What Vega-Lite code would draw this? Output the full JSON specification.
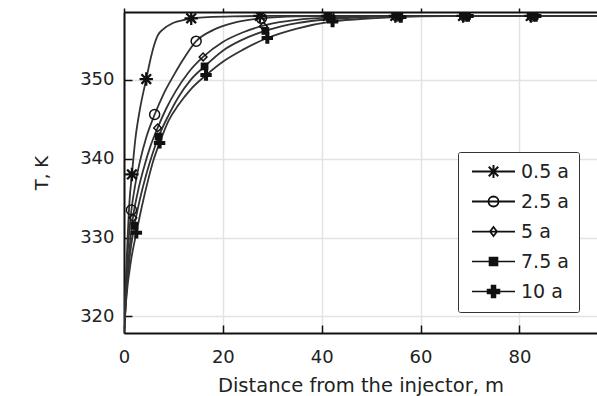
{
  "$schema": "https://vega.github.io/schema/vega-lite/v6.json",
  "width": 473,
  "height": 321,
  "autosize": "none",
  "padding": {"left": 124, "top": 12, "right": 0, "bottom": 63},
  "background": "white",
  "config": {"font": "DejaVu Sans", "view": {"stroke": null}},
  "datasets": {
    "curves": [
      {"series": "0.5 a", "x": 0, "T": 318}, {"series": "0.5 a", "x": 0.3, "T": 323.5}, {"series": "0.5 a", "x": 0.7, "T": 329.5}, {"series": "0.5 a", "x": 1.1, "T": 334.5}, {"series": "0.5 a", "x": 1.6, "T": 338}, {"series": "0.5 a", "x": 2.3, "T": 342.5}, {"series": "0.5 a", "x": 3.2, "T": 346.2}, {"series": "0.5 a", "x": 4.5, "T": 350.1}, {"series": "0.5 a", "x": 5.5, "T": 353}, {"series": "0.5 a", "x": 6.2, "T": 354.6}, {"series": "0.5 a", "x": 6.8, "T": 355.6}, {"series": "0.5 a", "x": 7.9, "T": 356.4}, {"series": "0.5 a", "x": 9.9, "T": 357.2}, {"series": "0.5 a", "x": 12.6, "T": 357.65}, {"series": "0.5 a", "x": 13.6, "T": 357.8}, {"series": "0.5 a", "x": 17, "T": 357.95}, {"series": "0.5 a", "x": 22, "T": 358.05}, {"series": "0.5 a", "x": 30, "T": 358.1}, {"series": "0.5 a", "x": 96, "T": 358.1},
      {"series": "2.5 a", "x": 0, "T": 318}, {"series": "2.5 a", "x": 0.4, "T": 324}, {"series": "2.5 a", "x": 0.9, "T": 329.5}, {"series": "2.5 a", "x": 1.5, "T": 333.5}, {"series": "2.5 a", "x": 2.3, "T": 336.8}, {"series": "2.5 a", "x": 3.2, "T": 339.6}, {"series": "2.5 a", "x": 4.5, "T": 342.7}, {"series": "2.5 a", "x": 6.2, "T": 345.6}, {"series": "2.5 a", "x": 8, "T": 348.2}, {"series": "2.5 a", "x": 10, "T": 350.5}, {"series": "2.5 a", "x": 12, "T": 352.6}, {"series": "2.5 a", "x": 14.6, "T": 354.9}, {"series": "2.5 a", "x": 18, "T": 356.3}, {"series": "2.5 a", "x": 22, "T": 357.2}, {"series": "2.5 a", "x": 27.8, "T": 357.8}, {"series": "2.5 a", "x": 35, "T": 358.05}, {"series": "2.5 a", "x": 45, "T": 358.1}, {"series": "2.5 a", "x": 96, "T": 358.1},
      {"series": "5 a", "x": 0, "T": 318}, {"series": "5 a", "x": 0.5, "T": 323.5}, {"series": "5 a", "x": 1.1, "T": 328.5}, {"series": "5 a", "x": 1.8, "T": 332.5}, {"series": "5 a", "x": 2.8, "T": 335.8}, {"series": "5 a", "x": 4, "T": 338.8}, {"series": "5 a", "x": 5.3, "T": 341.5}, {"series": "5 a", "x": 6.8, "T": 343.9}, {"series": "5 a", "x": 8.5, "T": 346.3}, {"series": "5 a", "x": 10.5, "T": 348.6}, {"series": "5 a", "x": 13, "T": 350.9}, {"series": "5 a", "x": 16, "T": 352.9}, {"series": "5 a", "x": 20, "T": 354.8}, {"series": "5 a", "x": 24, "T": 356}, {"series": "5 a", "x": 29, "T": 357}, {"series": "5 a", "x": 35, "T": 357.6}, {"series": "5 a", "x": 42, "T": 357.9}, {"series": "5 a", "x": 55, "T": 358.1}, {"series": "5 a", "x": 96, "T": 358.1},
      {"series": "7.5 a", "x": 0, "T": 318}, {"series": "7.5 a", "x": 0.5, "T": 323}, {"series": "7.5 a", "x": 1.2, "T": 327.8}, {"series": "7.5 a", "x": 2.1, "T": 331.5}, {"series": "7.5 a", "x": 3.2, "T": 334.8}, {"series": "7.5 a", "x": 4.5, "T": 338}, {"series": "7.5 a", "x": 5.8, "T": 340.7}, {"series": "7.5 a", "x": 7, "T": 342.8}, {"series": "7.5 a", "x": 9, "T": 345.5}, {"series": "7.5 a", "x": 11, "T": 347.8}, {"series": "7.5 a", "x": 13.5, "T": 350}, {"series": "7.5 a", "x": 16.3, "T": 351.7}, {"series": "7.5 a", "x": 20, "T": 353.7}, {"series": "7.5 a", "x": 24, "T": 355.1}, {"series": "7.5 a", "x": 29, "T": 356.3}, {"series": "7.5 a", "x": 35, "T": 357.2}, {"series": "7.5 a", "x": 42, "T": 357.7}, {"series": "7.5 a", "x": 50, "T": 358}, {"series": "7.5 a", "x": 60, "T": 358.1}, {"series": "7.5 a", "x": 96, "T": 358.1},
      {"series": "10 a", "x": 0, "T": 318}, {"series": "10 a", "x": 0.5, "T": 322.5}, {"series": "10 a", "x": 1.4, "T": 327}, {"series": "10 a", "x": 2.5, "T": 330.6}, {"series": "10 a", "x": 3.6, "T": 333.9}, {"series": "10 a", "x": 5, "T": 337.6}, {"series": "10 a", "x": 6, "T": 339.9}, {"series": "10 a", "x": 7.2, "T": 342}, {"series": "10 a", "x": 9, "T": 344.8}, {"series": "10 a", "x": 11, "T": 346.8}, {"series": "10 a", "x": 13.5, "T": 348.8}, {"series": "10 a", "x": 16.6, "T": 350.6}, {"series": "10 a", "x": 20, "T": 352.3}, {"series": "10 a", "x": 24, "T": 353.8}, {"series": "10 a", "x": 29, "T": 355.3}, {"series": "10 a", "x": 35, "T": 356.5}, {"series": "10 a", "x": 42.2, "T": 357.4}, {"series": "10 a", "x": 50, "T": 357.8}, {"series": "10 a", "x": 60, "T": 358.05}, {"series": "10 a", "x": 70, "T": 358.1}, {"series": "10 a", "x": 96, "T": 358.1}
    ],
    "markers": [
      {"series": "0.5 a", "x": 1.6, "T": 338}, {"series": "0.5 a", "x": 4.5, "T": 350.1}, {"series": "0.5 a", "x": 13.6, "T": 357.8}, {"series": "0.5 a", "x": 27.5, "T": 358.1}, {"series": "0.5 a", "x": 41.2, "T": 358.1}, {"series": "0.5 a", "x": 54.9, "T": 358.1}, {"series": "0.5 a", "x": 68.6, "T": 358.1}, {"series": "0.5 a", "x": 82.3, "T": 358.1},
      {"series": "2.5 a", "x": 1.5, "T": 333.5}, {"series": "2.5 a", "x": 6.2, "T": 345.6}, {"series": "2.5 a", "x": 14.6, "T": 354.9}, {"series": "2.5 a", "x": 27.8, "T": 357.8}, {"series": "2.5 a", "x": 41.5, "T": 358.1}, {"series": "2.5 a", "x": 55.2, "T": 358.1}, {"series": "2.5 a", "x": 68.9, "T": 358.1}, {"series": "2.5 a", "x": 82.6, "T": 358.1},
      {"series": "5 a", "x": 1.8, "T": 332.5}, {"series": "5 a", "x": 6.8, "T": 343.9}, {"series": "5 a", "x": 16, "T": 352.9}, {"series": "5 a", "x": 28.2, "T": 356.8}, {"series": "5 a", "x": 41.8, "T": 357.95}, {"series": "5 a", "x": 55.5, "T": 358.1}, {"series": "5 a", "x": 69.2, "T": 358.1}, {"series": "5 a", "x": 82.9, "T": 358.1},
      {"series": "7.5 a", "x": 2.1, "T": 331.5}, {"series": "7.5 a", "x": 7, "T": 342.8}, {"series": "7.5 a", "x": 16.3, "T": 351.7}, {"series": "7.5 a", "x": 28.6, "T": 356.2}, {"series": "7.5 a", "x": 42, "T": 357.7}, {"series": "7.5 a", "x": 55.7, "T": 358.05}, {"series": "7.5 a", "x": 69.4, "T": 358.1}, {"series": "7.5 a", "x": 83.1, "T": 358.1},
      {"series": "10 a", "x": 2.5, "T": 330.6}, {"series": "10 a", "x": 7.2, "T": 342}, {"series": "10 a", "x": 16.6, "T": 350.6}, {"series": "10 a", "x": 29, "T": 355.3}, {"series": "10 a", "x": 42.2, "T": 357.4}, {"series": "10 a", "x": 56, "T": 357.95}, {"series": "10 a", "x": 69.6, "T": 358.1}, {"series": "10 a", "x": 83.3, "T": 358.1}
    ]
  },
  "layer": [
    {
      "data": {"name": "curves"},
      "mark": {"type": "line", "interpolate": "monotone", "color": "#333", "strokeWidth": 1.8, "clip": true},
      "encoding": {
        "x": {"field": "x", "type": "quantitative", "scale": {"domain": [0, 95.7], "nice": false, "zero": false},
          "axis": {"orient": "bottom", "values": [0, 20, 40, 60, 80], "title": "Distance from the injector, m", "grid": true, "gridColor": "#e3e3e3", "gridWidth": 1.5,
            "domainColor": "#111", "domainWidth": 2, "tickColor": "#111", "tickWidth": 1.5, "tickSize": -8, "labelPadding": 23,
            "labelFontSize": 18, "labelColor": "#222", "titleFontSize": 19.5, "titleFontWeight": "normal", "titleColor": "#222", "titlePadding": 10, "labelFlush": false}},
        "y": {"field": "T", "type": "quantitative", "scale": {"domain": [317.9, 358.6], "nice": false, "zero": false},
          "axis": {"values": [320, 330, 340, 350], "title": "T, K", "grid": true, "gridColor": "#e3e3e3", "gridWidth": 1.5,
            "domainColor": "#111", "domainWidth": 2, "tickColor": "#111", "tickWidth": 1.5, "tickSize": -8, "labelPadding": 18,
            "labelFontSize": 18, "labelColor": "#222", "titleFontSize": 18, "titleFontWeight": "normal", "titleColor": "#222", "titlePadding": 28}},
        "detail": {"field": "series"}
      }
    },
    {
      "layer": [
        {
          "data": {"name": "markers"},
          "transform": [{"filter": "datum.series === '0.5 a'"}],
          "mark": {"type": "point", "shape": "M-1,0L1,0M0,-1L0,1M-0.72,-0.72L0.72,0.72M-0.72,0.72L0.72,-0.72", "filled": false, "stroke": "#111", "strokeWidth": 2.3, "size": 180, "opacity": 1, "clip": true},
          "encoding": {
            "x": {"field": "x", "type": "quantitative", "axis": {"orient": "top", "values": [0, 20, 40, 60, 80], "labels": false, "title": null, "grid": false, "domainColor": "#111", "domainWidth": 2, "tickColor": "#111", "tickWidth": 1.5, "tickSize": 4}},
            "y": {"field": "T", "type": "quantitative"}
          }
        },
        {
          "data": {"name": "markers"},
          "transform": [{"filter": "datum.series === '2.5 a'"}],
          "mark": {"type": "point", "shape": "circle", "filled": false, "stroke": "#111", "strokeWidth": 1.5, "size": 100, "opacity": 1, "clip": true},
          "encoding": {
            "x": {"field": "x", "type": "quantitative"},
            "y": {"field": "T", "type": "quantitative"}
          }
        },
        {
          "data": {"name": "markers"},
          "transform": [{"filter": "datum.series === '5 a'"}],
          "mark": {"type": "point", "shape": "diamond", "filled": false, "stroke": "#111", "strokeWidth": 1.5, "size": 60, "opacity": 1, "clip": true},
          "encoding": {
            "x": {"field": "x", "type": "quantitative"},
            "y": {"field": "T", "type": "quantitative"}
          }
        },
        {
          "data": {"name": "markers"},
          "transform": [{"filter": "datum.series === '7.5 a'"}],
          "mark": {"type": "point", "shape": "square", "filled": true, "color": "#111", "size": 60, "opacity": 1, "clip": true},
          "encoding": {
            "x": {"field": "x", "type": "quantitative"},
            "y": {"field": "T", "type": "quantitative"}
          }
        },
        {
          "data": {"name": "markers"},
          "transform": [{"filter": "datum.series === '10 a'"}],
          "mark": {"type": "point", "shape": "M-0.35,-1L0.35,-1L0.35,-0.35L1,-0.35L1,0.35L0.35,0.35L0.35,1L-0.35,1L-0.35,0.35L-1,0.35L-1,-0.35L-0.35,-0.35Z", "filled": true, "color": "#111", "size": 130, "opacity": 1, "clip": true},
          "encoding": {
            "x": {"field": "x", "type": "quantitative"},
            "y": {"field": "T", "type": "quantitative"}
          }
        },
        {
          "data": {"name": "markers"},
          "transform": [{"filter": "datum.series === 'legend only'"}],
          "mark": {"type": "point", "filled": false, "color": "#111", "opacity": 1},
          "encoding": {
            "x": {"field": "x", "type": "quantitative"},
            "y": {"field": "T", "type": "quantitative"},
            "shape": {"field": "series", "type": "nominal",
              "scale": {"domain": ["0.5 a", "2.5 a", "5 a", "7.5 a", "10 a"], "range": [
                "M-4.3,0L4.3,0M0,-1.3L0,1.3M-1.3,0L1.3,0M-0.95,-0.95L0.95,0.95M-0.95,0.95L0.95,-0.95",
                "M-4.3,0L4.3,0M1,0A1,1,0,1,1,-1,0A1,1,0,1,1,1,0Z",
                "M-4.3,0L4.3,0M0,-0.9L0.7,0L0,0.9L-0.7,0Z",
                "M-4.3,0L4.3,0M-0.8,-0.8L0.8,-0.8L0.8,0.8L-0.8,0.8Z",
                "M-4.3,0L4.3,0M-0.4,-1.2L0.4,-1.2L0.4,-0.4L1.2,-0.4L1.2,0.4L0.4,0.4L0.4,1.2L-0.4,1.2L-0.4,0.4L-1.2,0.4L-1.2,-0.4L-0.4,-0.4Z"]},
              "legend": {"title": null, "orient": "none", "legendX": 334, "legendY": 140, "padding": 10, "rowPadding": 10,
                "symbolSize": 100, "symbolOffset": 16, "labelOffset": 18, "labelFontSize": 19, "labelColor": "#222",
                "symbolOpacity": 1,
                "fillColor": "white", "strokeColor": "#333", "cornerRadius": 2,
                "encode": {"legend": {"update": {"strokeWidth": {"value": 2}}}}}},
            "fill": {"field": "series", "type": "nominal",
              "scale": {"domain": ["0.5 a", "2.5 a", "5 a", "7.5 a", "10 a"], "range": ["transparent", "transparent", "transparent", "#111", "#111"]}},
            "strokeWidth": {"field": "series", "type": "nominal",
              "scale": {"domain": ["0.5 a", "2.5 a", "5 a", "7.5 a", "10 a"], "range": [2, 1.5, 1.5, 1.5, 1.5]}}
          }
        }
      ]
    }
  ],
  "resolve": {"axis": {"x": "independent"}}
}
